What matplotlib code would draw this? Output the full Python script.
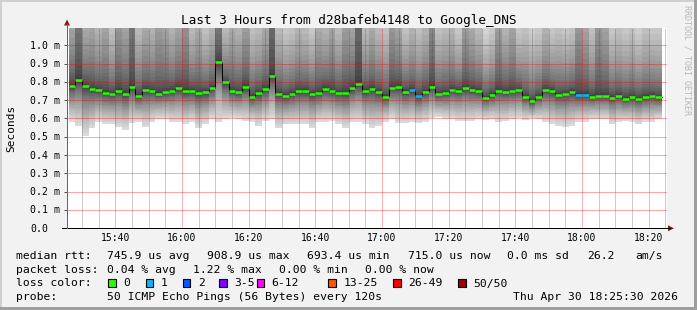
import numpy as np
import matplotlib
matplotlib.use("Agg")
import matplotlib.pyplot as plt
import matplotlib.dates as mdates
import matplotlib.ticker as mticker
import matplotlib.transforms as mtransforms
from matplotlib.patches import Rectangle, Polygon
from matplotlib.lines import Line2D
from datetime import datetime, timedelta

# ---------------- data ----------------
first_sample = datetime(2026, 4, 30, 15, 26, 0)
step_seconds = 120
view_start = datetime(2026, 4, 30, 15, 25, 30)
view_end = datetime(2026, 4, 30, 18, 25, 30)

median_ms = [
    0.779, 0.812, 0.779, 0.763, 0.757, 0.741, 0.736, 0.752, 0.736, 0.774,
    0.725, 0.757, 0.752, 0.736, 0.746, 0.752, 0.768, 0.752, 0.752, 0.741,
    0.746, 0.768, 0.909, 0.798, 0.752, 0.746, 0.774, 0.719, 0.741, 0.763,
    0.834, 0.736, 0.725, 0.736, 0.752, 0.752, 0.736, 0.741, 0.763, 0.752,
    0.741, 0.741, 0.768, 0.790, 0.752, 0.763, 0.746, 0.719, 0.768, 0.774,
    0.746, 0.757, 0.725, 0.746, 0.774, 0.736, 0.741, 0.757, 0.752, 0.768,
    0.757, 0.752, 0.714, 0.730, 0.752, 0.746, 0.752, 0.757, 0.719, 0.693,
    0.719, 0.757, 0.752, 0.730, 0.736, 0.746, 0.730, 0.730, 0.719, 0.725,
    0.725, 0.714, 0.725, 0.708, 0.719, 0.708, 0.719, 0.725, 0.715,
]
lowest_ms = [
    0.583, 0.561, 0.506, 0.546, 0.583, 0.568, 0.568, 0.554, 0.539, 0.574,
    0.583, 0.554, 0.583, 0.597, 0.597, 0.583, 0.583, 0.568, 0.583, 0.546,
    0.568, 0.597, 0.583, 0.597, 0.605, 0.597, 0.586, 0.583, 0.561, 0.586,
    0.597, 0.550, 0.568, 0.568, 0.568, 0.568, 0.550, 0.580, 0.583, 0.586,
    0.568, 0.546, 0.583, 0.583, 0.568, 0.546, 0.561, 0.583, 0.597, 0.574,
    0.574, 0.580, 0.574, 0.583, 0.605, 0.607, 0.597, 0.597, 0.586, 0.586,
    0.586, 0.597, 0.593, 0.597, 0.583, 0.586, 0.597, 0.600, 0.592, 0.600,
    0.597, 0.583, 0.568, 0.561, 0.556, 0.561, 0.583, 0.583, 0.597, 0.597,
    0.597, 0.568, 0.583, 0.586, 0.583, 0.568, 0.583, 0.583, 0.597,
]
# share of the 50 pings that lie above the top of the chart
share_above_top = [
    0.17, 0.31, 0.15, 0.17, 0.12, 0.17, 0.08, 0.21, 0.17, 0.30,
    0.10, 0.15, 0.12, 0.19, 0.17, 0.12, 0.17, 0.22, 0.10, 0.15,
    0.08, 0.12, 0.30, 0.10, 0.15, 0.12, 0.19, 0.08, 0.10, 0.15,
    0.34, 0.10, 0.06, 0.08, 0.12, 0.10, 0.06, 0.15, 0.12, 0.17,
    0.10, 0.19, 0.17, 0.34, 0.10, 0.15, 0.10, 0.08, 0.21, 0.17,
    0.08, 0.12, 0.08, 0.12, 0.25, 0.08, 0.10, 0.12, 0.06, 0.19,
    0.15, 0.10, 0.02, 0.06, 0.19, 0.12, 0.17, 0.06, 0.08, 0.04,
    0.06, 0.12, 0.06, 0.08, 0.06, 0.08, 0.21, 0.17, 0.08, 0.21,
    0.17, 0.06, 0.08, 0.06, 0.08, 0.04, 0.08, 0.06, 0.06,
]
lost_pings = [0] * 89
for _i in (51, 52, 76, 77):
    lost_pings[_i] = 1

pings_per_round = 50
y_top_ms = 1.094
yticks_ms = [0.0, 0.1, 0.2, 0.3, 0.4, 0.5, 0.6, 0.7, 0.8, 0.9, 1.0]
ytick_labels = ["0.0", "0.1 m", "0.2 m", "0.3 m", "0.4 m", "0.5 m",
                "0.6 m", "0.7 m", "0.8 m", "0.9 m", "1.0 m"]
xtick_labels = ["15:40", "16:00", "16:20", "16:40", "17:00",
                "17:20", "17:40", "18:00", "18:20"]
loss_bins = ["0", "1", "2", "3-5", "6-12", "13-25", "26-49", "50/50"]
loss_bin_upper = [0, 1, 2, 5, 12, 25, 49, 50]
loss_colors = ["#26ff00", "#00b8ff", "#0059ff", "#7e00ff",
               "#ff00ff", "#ff5500", "#ff0000", "#a10000"]

title = "Last 3 Hours from d28bafeb4148 to Google_DNS"
stats_rtt = ["745.9 us avg", "908.9 us max", "693.4 us min",
             "715.0 us now", "0.0 ms sd", "26.2", "am/s"]
stats_loss = ["0.04 % avg", "1.22 % max", "0.00 % min", "0.00 % now"]
probe_text = "50 ICMP Echo Pings (56 Bytes) every 120s"
stamp_text = "Thu Apr 30 18:25:30 2026"

# ---------------- figure ----------------
W, H = 697, 310
MONO = "DejaVu Sans Mono"
plt.rcParams["font.family"] = [MONO, "DejaVu Sans"]

fig = plt.figure(figsize=(W / 100, H / 100), dpi=100)
fig.patch.set_facecolor("#f2f2f2")


def fx(x):
    return x / W


def fy(y):
    return 1 - y / H


# frame
fig.patches.append(Rectangle((0, fy(2)), 1, 2 / H, transform=fig.transFigure, color="#cfcfcf", lw=0))
fig.patches.append(Rectangle((0, 0), 2 / W, 1, transform=fig.transFigure, color="#cfcfcf", lw=0))
fig.patches.append(Rectangle((0, 0), 1, 3 / H, transform=fig.transFigure, color="#9e9e9e", lw=0))
fig.patches.append(Rectangle((fx(694), 0), 3 / W, 1, transform=fig.transFigure, color="#9e9e9e", lw=0))

ax_l, ax_r, ax_t, ax_b = 67, 667, 28, 228.3
ax = fig.add_axes([fx(ax_l), fy(ax_b), (ax_r - ax_l) / W, (ax_b - ax_t) / H])
ax.set_facecolor("white")

n = len(median_ms)
t_edges = [first_sample + timedelta(seconds=step_seconds * i) for i in range(n + 1)]
xe = mdates.date2num(t_edges)
med = np.array(median_ms)
low = np.array(lowest_ms)
ft = 1 - np.array(share_above_top)


def quant(p):
    if p <= 0.5:
        return med - (med - low) * (1 - 2 * p) ** 1.5
    r = np.clip((p - 0.5) / (ft - 0.5), 0, None)
    return np.minimum(med + (y_top_ms - med) * r ** 2, y_top_ms)


half = pings_per_round // 2
g_light, g_dark = 218, 54
for i in range(half):
    lo = quant(i / pings_per_round)
    hi = quant(1 - i / pings_per_round)
    g = (g_light - (g_light - g_dark) * i / (half - 1)) / 255
    ax.fill_between(xe, np.append(lo, lo[-1]), np.append(hi, hi[-1]), step="post",
                    color=(g, g, g), lw=0, zorder=1, antialiased=False)

# median line
ax.step(xe, np.append(med, med[-1]), where="post", color="black", lw=0.7, zorder=3)
seg_colors = []
for lp in lost_pings:
    for b, ub in enumerate(loss_bin_upper):
        if lp <= ub:
            seg_colors.append(loss_colors[b])
            break
ax.hlines(med, xe[:-1], xe[1:], colors=seg_colors, lw=1.8, zorder=4)

ax.set_xlim(mdates.date2num(view_start), mdates.date2num(view_end))
ax.set_ylim(0, y_top_ms)

major_times = [datetime(2026, 4, 30, int(s[:2]), int(s[3:])) for s in xtick_labels]
xticks = [mdates.date2num(t) for t in major_times]
ax.set_xticks(xticks)
minor_times = []
t = datetime(2026, 4, 30, 15, 30)
while t < view_end:
    if t.minute % 20 != 0:
        minor_times.append(mdates.date2num(t))
    t += timedelta(minutes=5)
ax.xaxis.set_minor_locator(mticker.FixedLocator(minor_times))
ax.set_yticks(yticks_ms)

ax.set_axisbelow(False)
ax.grid(which="major", axis="x", color="#ff0000", alpha=0.3, ls=(0, (1, 1)), lw=0.72, antialiased=False)
ax.grid(which="minor", axis="x", color="#555555", alpha=0.3, ls=(0, (1, 1)), lw=0.72, antialiased=False)
ax.grid(which="major", axis="y", color="#ff0000", alpha=0.35, ls=(0, (1, 1)), lw=0.72, antialiased=False)

ax.tick_params(labelbottom=False, labelleft=False)
ax.tick_params(axis="x", which="both", length=0)
ax.tick_params(axis="y", which="major", length=2.2, width=0.72, color="#555555", direction="out")

for s in ("top", "right"):
    ax.spines[s].set_visible(False)
ax.spines["left"].set_color("#666666")
ax.spines["left"].set_linewidth(0.72)
ax.spines["bottom"].set_color("black")
ax.spines["bottom"].set_linewidth(0.72)

# tick labels
ylab_tr = mtransforms.offset_copy(ax.get_yaxis_transform(), fig=fig, y=-3.5, units="dots")
for v, lab in zip(yticks_ms, ytick_labels):
    ax.text((30 - ax_l) / (ax_r - ax_l), v, lab, transform=ylab_tr, ha="left", va="baseline",
            fontsize=7.1, family=MONO, color="black")
xlab_tr = ax.get_xaxis_transform()
for v, lab in zip(xticks, xtick_labels):
    ax.text(v, -(241 - ax_b) / (ax_b - ax_t), lab, transform=xlab_tr, ha="center", va="baseline",
            fontsize=7.0, family=MONO, color="black", clip_on=False)

# axis extensions and arrows
fig.add_artist(Line2D([fx(62), fx(670)], [fy(ax_b), fy(ax_b)], color="black", lw=0.72,
                      transform=fig.transFigure))
fig.add_artist(Line2D([fx(ax_l), fx(ax_l)], [fy(ax_b), fy(24)], color="#666666", lw=0.72,
                      transform=fig.transFigure))
fig.patches.append(Polygon([[fx(668), fy(ax_b - 3)], [fx(674), fy(ax_b)], [fx(668), fy(ax_b + 3)]],
                           closed=True, transform=fig.transFigure, color="#8b1a1a", lw=0))
fig.patches.append(Polygon([[fx(ax_l - 3), fy(25.5)], [fx(ax_l), fy(19.5)], [fx(ax_l + 3), fy(25.5)]],
                           closed=True, transform=fig.transFigure, color="#8b1a1a", lw=0))

# texts
fig.text(fx(348.5), fy(24), title, ha="center", va="baseline", fontsize=9.2, family=MONO)
fig.text(fx(11), fy(128), "Seconds", rotation=90, ha="center", va="center", fontsize=8.0, family=MONO)
fig.text(fx(687.5), fy(60), "RRDTOOL / TOBI OETIKER", rotation=270, ha="center", va="center",
         fontsize=6.0, family=MONO, color="#b8b8b8")

LF = 8.2
b1, b2, b3, b4 = 259, 272.7, 286.5, 300.2
fig.text(fx(16), fy(b1), "median rtt:", fontsize=LF, family=MONO, va="baseline")
for xpos, s in zip([107.3, 207.3, 306.7, 407.7, 507.3, 586.7, 635.3], stats_rtt):
    fig.text(fx(xpos), fy(b1), s, fontsize=LF, family=MONO, va="baseline")
fig.text(fx(16), fy(b2), "packet loss:", fontsize=LF, family=MONO, va="baseline")
for xpos, s in zip([107.3, 192.7, 278.7, 365.0], stats_loss):
    fig.text(fx(xpos), fy(b2), s, fontsize=LF, family=MONO, va="baseline")
fig.text(fx(16), fy(b3), "loss color:", fontsize=LF, family=MONO, va="baseline")
box_x = [108.3, 145.7, 182.7, 219.3, 256.7, 328.3, 393.3, 458.3]
for bx, lab, col in zip(box_x, loss_bins, loss_colors):
    fig.patches.append(Rectangle((fx(bx), fy(b3)), 7.5 / W, 7.5 / H, transform=fig.transFigure,
                                 facecolor=col, edgecolor="black", lw=0.8))
    fig.text(fx(bx + 15), fy(b3), lab, fontsize=LF, family=MONO, va="baseline")
fig.text(fx(16), fy(b4), "probe:", fontsize=LF, family=MONO, va="baseline")
fig.text(fx(107.3), fy(b4), probe_text, fontsize=LF, family=MONO, va="baseline")
fig.text(fx(513.3), fy(b4), stamp_text, fontsize=LF, family=MONO, va="baseline")

fig.savefig("out.png", dpi=100, facecolor=fig.get_facecolor())
